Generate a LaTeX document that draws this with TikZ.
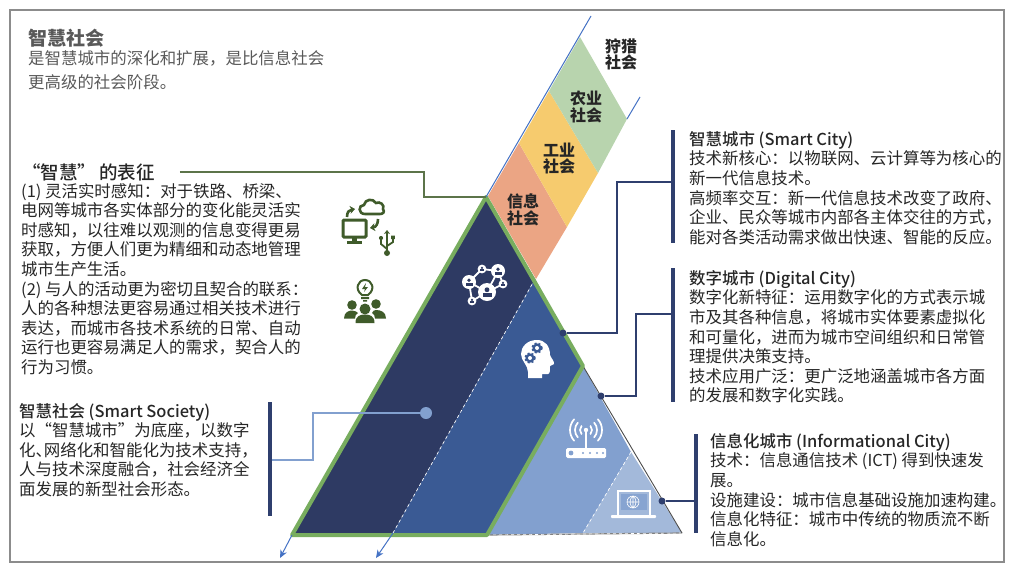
\documentclass[tikz,border=0pt]{standalone}
\usepackage{fontspec}
\setmainfont{Noto Sans CJK SC}
\newfontfamily\medfont{Noto Sans CJK SC Medium}
\usetikzlibrary{arrows.meta}
\definecolor{navybar}{HTML}{2F3F6E}
\definecolor{darkband}{HTML}{2E3A63}
\definecolor{midband}{HTML}{3A5A94}
\definecolor{lightband}{HTML}{82A0CF}
\definecolor{paleband}{HTML}{A3B9DA}
\definecolor{greenedge}{HTML}{78AD5F}
\definecolor{greenicon}{HTML}{3F5B2A}
\definecolor{orangeband}{HTML}{EBA584}
\definecolor{yellowband}{HTML}{F6CB6E}
\definecolor{sageband}{HTML}{B8D4AE}
\definecolor{arrowblue}{HTML}{4472C4}
\definecolor{bodygray}{HTML}{262626}
\tikzset{
  bodytext/.style={align=left, inner sep=0pt, anchor=north west, text=bodygray, font=\fontsize{16.45}{19.6}\selectfont},
  stagetext/.style={align=center, inner sep=0pt, text=black!85, font=\fontsize{16}{16.5}\selectfont\bfseries},
  sidebar/.style={fill=navybar, inner sep=0pt, minimum width=4.3pt},
  pindot/.style={circle, fill=navybar, inner sep=0pt, minimum size=7pt},
  linkline/.style={navybar, line width=1.2pt},
  iconline/.style={greenicon, line width=3pt},
  whiteicon/.style={white, line width=1.8pt}
}
\begin{document}
\begin{tikzpicture}[x=1pt,y=-1pt]
\useasboundingbox (0,0) rectangle (1015,573);
\draw[gray!90, line width=1.4pt] (10,10) rectangle (1004,562);

\coordinate (apex) at (486,197);
\coordinate (botl) at (292,535);
\coordinate (botm) at (487,535);
\coordinate (botr) at (682,533);
\coordinate (waist) at (583,366);
\coordinate (cutup) at (535,279);
\coordinate (cutdn) at (393,533);
\coordinate (paleup) at (631,452);
\coordinate (paledn) at (583,533);

\fill[orangeband] (488,196) -- (519,143) -- (567,227) -- (536,279) -- cycle;
\fill[yellowband] (519,143) -- (549,91) -- (598,173) -- (567,227) -- cycle;
\fill[sageband] (549,91) -- (580,37) -- (627,119) -- (598,173) -- cycle;

\fill[darkband] (apex) -- (botl) -- (cutdn) -- (cutup) -- cycle;
\fill[midband] (cutup) -- (cutdn) -- (botm) -- (waist) -- cycle;
\fill[lightband] (waist) -- (botm) -- (paledn) -- (paleup) -- cycle;
\fill[paleband] (paleup) -- (paledn) -- (botr) -- cycle;
\draw[white, dashed, line width=.7pt] (cutup) -- (cutdn);
\draw[white, dashed, line width=.7pt] (paleup) -- (paledn);
\draw[gray, line width=1.2pt] (botm) -- (botr);
\draw[white, dashed, line width=.6pt] (botm) -- (botr);
\draw[black!70, line width=.9pt] (waist) -- (botr);
\draw[greenedge, line width=4pt, line join=round] (waist) -- (apex) -- (botl) -- (botm) -- cycle;

\coordinate (bluetop) at (591,16);
\coordinate (blueleft) at (280,558);
\coordinate (blueright) at (376,558);
\draw[arrowblue, line width=1pt] (bluetop) -- (apex);
\draw[arrowblue, line width=1pt] (640,97) -- (627,119);
\draw[arrowblue, line width=1pt, -{Stealth[length=8pt,width=7pt]}] (botl) -- (blueleft);
\draw[arrowblue, line width=1pt, -{Stealth[length=8pt,width=7pt]}] (cutdn) -- (blueright);

\node[stagetext] (hunt) at (621,54.5) {狩猎\\社会};
\node[stagetext] (farm) at (586,107) {农业\\社会};
\node[stagetext] (indu) at (559,158.5) {工业\\社会};
\node[stagetext] (info) at (523,210) {信息\\社会};

\node[inner sep=0pt, anchor=west, text=black!65, font=\fontsize{19}{22}\selectfont\bfseries] (maintitle) at (28,38) {智慧社会};
\node[bodytext, text=black!65, font=\fontsize{16.45}{24}\selectfont] (mainnote) at (28,50) {是智慧城市的深化和扩展，是比信息社会\\更高级的社会阶段。};

\node[inner sep=0pt, anchor=west, text=black!85, font=\fontsize{18.5}{22}\medfont] (headsign) at (22,172) {“智慧”\hspace{3pt}的表征};
\node[bodytext] (signtext) at (21,183) {(1) 灵活实时感知：对于铁路、桥梁、\\电网等城市各实体部分的变化能灵活实\\时感知，以往难以观测的信息变得更易\\获取，方便人们更为精细和动态地管理\\城市生产生活。\\(2) 与人的活动更为密切且契合的联系：\\人的各种想法更容易通过相关技术进行\\表达，而城市各技术系统的日常、自动\\运行也更容易满足人的需求，契合人的\\行为习惯。};

\node[bodytext] (societytext) at (19,403) {{\medfont 智慧社会 (Smart Society)}\\以“智慧城市”为底座，以数字\\化、\hspace{-.5em}网络化和智能化为技术支持，\\人与技术深度融合，社会经济全\\面发展的新型社会形态。};
\node[bodytext] (citytext) at (689,131) {{\medfont 智慧城市 (Smart City)}\\技术新核心：以物联网、云计算等为核心的\\新一代信息技术。\\高频率交互：新一代信息技术改变了政府、\\企业、民众等城市内部各主体交往的方式，\\能对各类活动需求做出快速、智能的反应。};
\node[bodytext] (digitaltext) at (689,270) {{\medfont 数字城市 (Digital City)}\\数字化新特征：运用数字化的方式表示城\\市及其各种信息，将城市实体要素虚拟化\\和可量化，进而为城市空间组织和日常管\\理提供决策支持。\\技术应用广泛：更广泛地涵盖城市各方面\\的发展和数字化实践。};
\node[bodytext] (infotext) at (710,433) {{\medfont 信息化城市 (Informational City)}\\技术：信息通信技术 (ICT) 得到快速发\\展。\\设施建设：城市信息基础设施加速构建。\\信息化特征：城市中传统的物质流不断\\信息化。};

\node[sidebar, minimum height=113pt] (barcity) at (673,186.5) {};
\node[sidebar, minimum height=134pt] (bardigital) at (673,335) {};
\node[sidebar, minimum height=99pt] (barinfo) at (696,483.5) {};
\node[sidebar, minimum height=114pt] (barsociety) at (270,459) {};

\node[pindot] (dotcity) at (563,333) {};
\node[pindot] (dotdigital) at (601,396) {};
\node[pindot] (dotinfo) at (662,501) {};
\node[circle, fill=lightband, inner sep=0pt, minimum size=12pt] (dotsociety) at (426,413) {};

\coordinate (cityknee) at (617,182);
\coordinate (digitalknee) at (636,314);
\coordinate (societyknee) at (313,460);
\coordinate (signknee) at (424,172);
\draw[linkline] (barcity.west |- cityknee) -- (cityknee) |- (dotcity);
\draw[linkline] (bardigital.west |- digitalknee) -- (digitalknee) |- (dotdigital);
\draw[linkline] (barinfo.west |- dotinfo) -- (dotinfo);
\draw[lightband, line width=1.2pt] (barsociety.east |- societyknee) -- (societyknee) |- (dotsociety);
\draw[greenicon!85!white, line width=1.2pt] ([xshift=25pt]headsign.east) -- (signknee) |- (apex);

\draw[iconline, rounded corners=1pt] (343,220) rectangle (366,237);
\fill[greenicon] (352,238) rectangle (357,242);
\fill[greenicon] (347,241) rectangle (362,244);
\draw[greenicon, line width=2.6pt] (365,214) .. controls (358,214) and (358,205) .. (364,205) .. controls (365,199) and (373,198) .. (376,203) .. controls (380,201) and (385,205) .. (383,209) .. controls (385,212) and (383,214) .. (380,214) -- cycle;
\draw[greenicon, line width=2.6pt, -{Stealth[length=5pt,width=8pt]}] (347,217) .. controls (347,212) and (349,210) .. (355,209);
\draw[greenicon, line width=2.6pt, -{Stealth[length=5pt,width=8pt]}] (378,219) .. controls (378,224) and (376,227) .. (370,228);
\draw[greenicon, line width=1.8pt, -{Stealth[length=4pt,width=6pt]}] (387,253) -- (387,230);
\draw[greenicon, line width=1.8pt] (387,249) -- (381,244) -- (381,239);
\draw[greenicon, line width=1.8pt] (387,246) -- (393,242) -- (393,238);
\fill[greenicon] (387,253) circle (3pt) (381,238) circle (2.1pt) (391.2,235.5) rectangle (394.8,239);

\draw[greenicon, line width=2pt] (362,295) .. controls (354,289) and (358,280) .. (365,280) .. controls (372,280) and (376,289) .. (368,295) -- cycle;
\fill[greenicon] (366,283) -- (362,289) -- (365,289) -- (364,292) -- (368,287) -- (365,287) -- cycle;
\fill[greenicon] (361,297) rectangle (369,299) (363,300) rectangle (367,301.5);
\fill[greenicon] (352,305) circle (4.8pt) (376,304) circle (4.8pt) (365,309) circle (5.5pt);
\fill[greenicon] (344,318.5) .. controls (344,312) and (349,310.5) .. (352,310.5) .. controls (355,310.5) and (357,312) .. (358,313) .. controls (356,314) and (355,316) .. (355,318.5) -- cycle;
\fill[greenicon] (386,318.5) .. controls (386,312) and (381,310) .. (376,310) .. controls (374,310) and (373,311) .. (372,313) .. controls (374,314) and (375,316) .. (375,318.5) -- cycle;
\fill[greenicon] (355.5,323) .. controls (355.5,316) and (360,314.5) .. (365,314.5) .. controls (370,314.5) and (374.5,316) .. (374.5,323) -- cycle;

\draw[whiteicon] (469,282) -- (482,269) -- (498,271) -- (487,292) -- (469,282) (498,271) -- (503,284) -- (487,292) -- (472,301) -- (469,282);
\foreach \nx/\ny/\nr in {487/292/9, 498/271/7, 469/282/7, 482/269/4.4, 503/284/4.4, 472/301/4.4}{
  \fill[white] (\nx,\ny) circle (\nr pt);
  \fill[darkband] (\nx,\ny-0.25*\nr) circle (0.27*\nr pt);
  \fill[darkband] (\nx-0.5*\nr,\ny+0.55*\nr) rectangle (\nx+0.5*\nr,\ny+0.1*\nr);
}

\fill[white] (537,340) .. controls (527,340) and (521,347) .. (521,354) .. controls (521,361) and (528,365) .. (528,372) -- (528,378) -- (542,378) -- (542,374) -- (548,374) .. controls (550,374) and (550,370) .. (550,366) -- (554,364) .. controls (555,362) and (551,358) .. (550,355) .. controls (550,346) and (545,340) .. (537,340) -- cycle;
\foreach \gx/\gy in {537/348, 530/358}{
  \fill[midband] (\gx,\gy) circle (4.6pt);
  \draw[midband, line width=1.6pt, dash pattern=on 2pt off 2.1pt] (\gx,\gy) circle (5pt);
  \fill[white] (\gx,\gy) circle (2pt);
}

\draw[white, line width=1.7pt, line cap=round] (586,430) -- (586,449);
\fill[white] (586,430) circle (2.2pt);
\foreach \rr in {6,11,16}{
  \draw[white, line width=1.7pt, line cap=round] (586,430) ++(-42:\rr pt) arc[start angle=-42, end angle=42, radius=\rr pt];
  \draw[white, line width=1.7pt, line cap=round] (586,430) ++(138:\rr pt) arc[start angle=138, end angle=222, radius=\rr pt];
}
\fill[white, rounded corners=1.5pt] (566,448) rectangle (606,458);
\fill[lightband] (571,453) circle (2.4pt);
\foreach \lx in {583,590,597,603}{
  \fill[lightband] (\lx,453) circle (1.1pt);
}

\draw[white, line width=1.2pt] (618,515) -- (618,491) -- (650,491) -- (650,515);
\fill[white, rounded corners=.8pt] (611,515) rectangle (656,518);
\fill[lightband!85!paleband] (621,494) rectangle (647,510);
\draw[white, line width=.6pt] (633,502) circle (6pt) (627,502) -- (639,502) (633,496) -- (633,508) (633,496) .. controls (629,499) and (629,505) .. (633,508) (633,496) .. controls (637,499) and (637,505) .. (633,508);
\end{tikzpicture}
\end{document}
